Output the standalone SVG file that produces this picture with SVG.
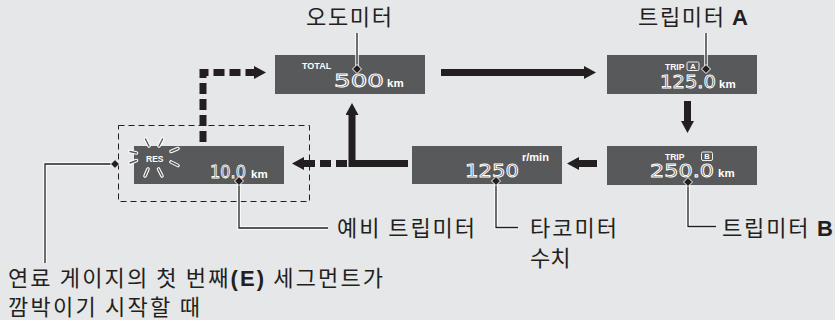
<svg xmlns="http://www.w3.org/2000/svg" width="835" height="320" viewBox="0 0 835 320">
<style>
.bg{fill:#e6e7e8}
.disp{fill:#58595b}
.kr{font-family:"Noto Sans CJK KR","Noto Sans",sans-serif;font-size:22px;fill:#231f20}
.lb{font-family:"Liberation Sans",Arial,sans-serif;font-weight:bold}
.sm{font-family:"Liberation Sans",Arial,sans-serif;font-weight:bold;fill:#ffffff}
.seg{font-family:"DejaVu Sans","Liberation Sans",sans-serif;font-size:18px;fill:none;stroke:#ffffff;stroke-width:0.9}
.arr{fill:none;stroke:#231f20;stroke-width:7}
.dsh{stroke-dasharray:11 5}
.box{fill:none;stroke:#231f20;stroke-width:1;stroke-dasharray:6 4}
.halo{fill:none;stroke:#ffffff;stroke-width:3.5}
.lead{fill:none;stroke:#231f20;stroke-width:1.3}
.dia{fill:#231f20;stroke:#ffffff;stroke-width:1}
.rayo{stroke:#ffffff;stroke-width:3.6;stroke-linecap:round}
.rayi{stroke:#58595b;stroke-width:1.4;stroke-linecap:round}
.tag{fill:none;stroke:#ffffff;stroke-width:0.9}
</style>
<defs>
<marker id="ah" markerUnits="userSpaceOnUse" markerWidth="12" markerHeight="13" viewBox="0 0 12 13" refX="0" refY="6.5" orient="auto">
<path d="M0,0 L12,6.5 L0,13 z" fill="#231f20"/>
</marker>
<polygon id="dm" points="0,-4.5 4.5,0 0,4.5 -4.5,0"/>
</defs>
<rect class="bg" x="0" y="0" width="835" height="320"/>

<g id="odometer">
<rect class="disp" x="275" y="55" width="150" height="39"/>
<text class="sm" x="302" y="69" font-size="9">TOTAL</text>
<text class="seg" x="334" y="87" textLength="50" lengthAdjust="spacingAndGlyphs">500</text>
<text class="sm" x="387" y="87" font-size="11.5">km</text>
</g>

<g id="tripA">
<rect class="disp" x="607" y="55" width="150" height="39"/>
<text class="sm" x="665" y="69.5" font-size="8.5">TRIP</text>
<rect class="tag" x="687" y="62" width="12" height="8.5" rx="1.5"/>
<text class="sm" x="693" y="69" font-size="7.5" text-anchor="middle">A</text>
<text class="seg" x="660" y="88" textLength="56" lengthAdjust="spacingAndGlyphs">125.0</text>
<text class="sm" x="719" y="88" font-size="11.5">km</text>
</g>

<g id="tripB">
<rect class="disp" x="607" y="146" width="150" height="39"/>
<text class="sm" x="665" y="159.5" font-size="8.5">TRIP</text>
<rect class="tag" x="701.5" y="152" width="11" height="8.5" rx="1.5"/>
<text class="sm" x="707" y="159" font-size="7.5" text-anchor="middle">B</text>
<text class="seg" x="650" y="177" textLength="64" lengthAdjust="spacingAndGlyphs">250.0</text>
<text class="sm" x="718" y="177" font-size="11.5">km</text>
</g>

<g id="tachometer">
<rect class="disp" x="412" y="146" width="150" height="38"/>
<text class="sm" x="522" y="161" font-size="11">r/min</text>
<text class="seg" x="465" y="177" textLength="54" lengthAdjust="spacingAndGlyphs">1250</text>
</g>

<g id="reserve">
<rect class="box" x="118.5" y="125.5" width="191" height="76"/>
<rect class="disp" x="134" y="146" width="150" height="38"/>
<g>
<line class="rayo" x1="145.5" y1="139" x2="149" y2="146"/>
<line class="rayo" x1="162.5" y1="139" x2="159" y2="146"/>
<line class="rayo" x1="130" y1="151.5" x2="136.5" y2="153"/>
<line class="rayo" x1="130" y1="163" x2="136.5" y2="160.5"/>
<line class="rayo" x1="171" y1="151.5" x2="178" y2="148.5"/>
<line class="rayo" x1="171" y1="162" x2="178" y2="165.5"/>
<line class="rayo" x1="148" y1="169" x2="145" y2="176"/>
<line class="rayo" x1="158.5" y1="169" x2="162" y2="176"/>
<line class="rayi" x1="145.5" y1="139" x2="149" y2="146"/>
<line class="rayi" x1="162.5" y1="139" x2="159" y2="146"/>
<line class="rayi" x1="130" y1="151.5" x2="136.5" y2="153"/>
<line class="rayi" x1="130" y1="163" x2="136.5" y2="160.5"/>
<line class="rayi" x1="171" y1="151.5" x2="178" y2="148.5"/>
<line class="rayi" x1="171" y1="162" x2="178" y2="165.5"/>
<line class="rayi" x1="148" y1="169" x2="145" y2="176"/>
<line class="rayi" x1="158.5" y1="169" x2="162" y2="176"/>
</g>
<text class="sm" x="146" y="162" font-size="8.5">RES</text>
<text class="seg" x="210" y="178" textLength="36" lengthAdjust="spacingAndGlyphs">10.0</text>
<text class="sm" x="251" y="178" font-size="11.5">km</text>
</g>

<g id="connectors">
<path class="arr" d="M441,72.5 H584" marker-end="url(#ah)"/>
<path class="arr" d="M687.5,101 V121" marker-end="url(#ah)"/>
<path class="arr" d="M597,163.5 H579" marker-end="url(#ah)"/>
<path class="arr" d="M408,163.5 H352 V115" marker-end="url(#ah)"/>
<path class="arr dsh" d="M347,163.5 H304" marker-end="url(#ah)"/>
<path class="arr dsh" d="M203,142 V72.5 H254" marker-end="url(#ah)"/>
</g>

<g id="leaders">
<path class="halo" d="M357,33 V66"/>
<path class="halo" d="M706,33 V66"/>
<path class="halo" d="M688,185 V226.5 H716"/>
<path class="halo" d="M496,184 V227.5 H518"/>
<path class="halo" d="M239,184 V228 H328"/>
<path class="halo" d="M112,164 H45 V263"/>
<path class="lead" d="M357,33 V66"/>
<path class="lead" d="M706,33 V66"/>
<path class="lead" d="M688,185 V226.5 H716"/>
<path class="lead" d="M496,184 V227.5 H518"/>
<path class="lead" d="M239,184 V228 H328"/>
<path class="lead" d="M112,164 H45 V263"/>
<use href="#dm" class="dia" x="357" y="69"/>
<use href="#dm" class="dia" x="706" y="69"/>
<use href="#dm" class="dia" x="688" y="182"/>
<use href="#dm" class="dia" x="496" y="181"/>
<use href="#dm" class="dia" x="239" y="181"/>
<use href="#dm" class="dia" x="115" y="164"/>
</g>

<g id="labels">
<text class="kr" x="306" y="25" textLength="86" lengthAdjust="spacing">오도미터</text>
<text class="kr" x="638" y="25" textLength="110" lengthAdjust="spacing">트립미터 <tspan class="lb">A</tspan></text>
<text class="kr" x="337" y="236" textLength="138" lengthAdjust="spacing">예비 트립미터</text>
<text class="kr" x="530" y="236" textLength="87" lengthAdjust="spacing">타코미터</text>
<text class="kr" x="530" y="266">수치</text>
<text class="kr" x="722" y="236" textLength="111" lengthAdjust="spacing">트립미터 <tspan class="lb">B</tspan></text>
<text class="kr" x="8" y="286" textLength="375" lengthAdjust="spacing">연료 게이지의 첫 번째<tspan class="lb">(E)</tspan> 세그먼트가</text>
<text class="kr" x="8" y="315" textLength="192" lengthAdjust="spacing">깜박이기 시작할 때</text>
</g>
</svg>
